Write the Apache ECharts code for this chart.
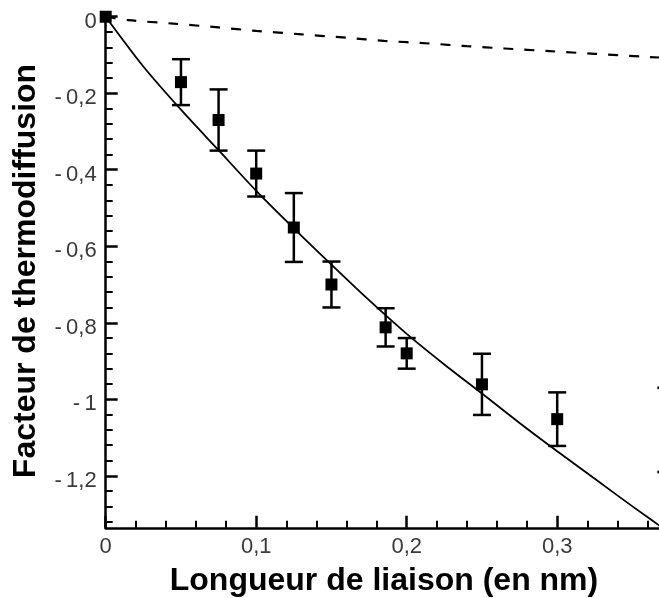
<!DOCTYPE html>
<html><head><meta charset="utf-8">
<script src="https://cdn.jsdelivr.net/npm/echarts@6/dist/echarts.min.js"></script>
<style>html,body{margin:0;padding:0;background:#fff}#c{width:659px;height:598px}</style>
</head><body><div id="c"></div>
<script>
// Measured points (x in nm, thermodiffusion factor) with symmetric error bars
const pointX = [0, 0.05, 0.075, 0.1, 0.125, 0.15, 0.186, 0.2, 0.25, 0.3, 0.3725];
const pointY = [0, -0.171, -0.270, -0.410, -0.551, -0.700, -0.812, -0.880, -0.961, -1.052, -1.080];
const pointErr = [0, 0.06, 0.08, 0.06, 0.09, 0.06, 0.05, 0.04, 0.08, 0.07, 0.11];

// Solid fitted curve
const fitX = [0, 0.025, 0.05, 0.075, 0.1, 0.125, 0.15, 0.175, 0.2, 0.225, 0.25, 0.275, 0.3, 0.325, 0.35, 0.375, 0.4];
const fitY = [0, -0.13, -0.243, -0.349, -0.455, -0.553, -0.648, -0.741, -0.829, -0.909, -0.985, -1.062, -1.136, -1.208, -1.280, -1.350, -1.42];

// Dashed curve
const dashX = [0, 0.015, 0.045, 0.075, 0.1, 0.13, 0.16, 0.185, 0.215, 0.24, 0.265, 0.295, 0.325, 0.355, 0.4];
const dashY = [0, -0.009, -0.018, -0.028, -0.037, -0.046, -0.055, -0.063, -0.070, -0.077, -0.083, -0.090, -0.097, -0.104, -0.113];

// Tick labels
const yMajorTicks = [0, -0.2, -0.4, -0.6, -0.8, -1.0, -1.2];
const yMajorLabels = ['0', '-\u20090,2', '-\u20090,4', '-\u20090,6', '-\u20090,8', '-\u20091', '-\u20091,2'];
const yMinorTicks = [-0.04, -0.08, -0.12, -0.16, -0.24, -0.28, -0.32, -0.36, -0.44, -0.48, -0.52, -0.56,
  -0.64, -0.68, -0.72, -0.76, -0.84, -0.88, -0.92, -0.96, -1.04, -1.08, -1.12, -1.16, -1.24, -1.28, -1.32];
const xTickLabels = { '0': '0', '0.1': '0,1', '0.2': '0,2', '0.3': '0,3', '0.4': '0,4' };

const xTitle = 'Longueur de liaison (en nm)';
const yTitle = 'Facteur de thermodiffusion';

const chart = echarts.init(document.getElementById('c'), null, { renderer: 'canvas' });
const labelFont = { fontFamily: 'Liberation Sans', fontSize: 22, color: '#3a3a3a', fontWeight: 'normal' };

const points = pointX.map((x, i) => [x, pointY[i], pointErr[i]]);
const bars = points.filter(p => p[2] > 0);

chart.setOption({
  animation: false,
  backgroundColor: '#fff',
  grid: { left: 105.7, top: 12.9, width: 602, height: 514.9, containLabel: false, outerBoundsMode: 'none' },
  xAxis: [{
    type: 'value', min: 0, max: 0.4, interval: 0.1,
    axisLine: { show: true, onZero: false, lineStyle: { color: '#000', width: 2.5 } },
    axisTick: { show: true, inside: true, length: 12, lineStyle: { color: '#000', width: 2.5 } },
    minorTick: { show: true, splitNumber: 5, length: 7, lineStyle: { color: '#000', width: 2 } },
    splitLine: { show: false }, minorSplitLine: { show: false },
    axisLabel: Object.assign({ margin: 8, formatter: v => xTickLabels[String(Math.round(v * 10) / 10)] || '' }, labelFont)
  }],
  yAxis: [{
    type: 'value', min: -1.336, max: 0.01, position: 'left',
    axisLine: { show: true, onZero: false, lineStyle: { color: '#000', width: 2.5 } },
    axisTick: { show: true, inside: true, length: 12, customValues: yMajorTicks, lineStyle: { color: '#000', width: 2.5 } },
    splitLine: { show: false },
    axisLabel: Object.assign({
      margin: 9, customValues: yMajorTicks,
      formatter: v => { const i = yMajorTicks.findIndex(t => Math.abs(t - v) < 1e-6); return i >= 0 ? '{l|' + yMajorLabels[i] + '}' : ''; },
      rich: { l: Object.assign({ padding: [10, 0, 0, 0] }, labelFont) }
    }, labelFont)
  }, {
    type: 'value', min: -1.336, max: 0.01, position: 'left', offset: 0,
    axisLine: { show: false },
    axisTick: { show: true, inside: true, length: 7, customValues: yMinorTicks, lineStyle: { color: '#000', width: 2 } },
    axisLabel: { show: false }, splitLine: { show: false }
  }],
  series: [
    {
      type: 'line', name: 'fit', data: fitX.map((x, i) => [x, fitY[i]]),
      showSymbol: false, symbol: 'none', smooth: 0.3, clip: true,
      lineStyle: { color: '#000', width: 1.8 }, z: 2
    },
    {
      type: 'line', name: 'dash', data: dashX.map((x, i) => [x, dashY[i]]),
      showSymbol: false, symbol: 'none', smooth: 0.3, clip: true,
      lineStyle: { color: '#000', width: 2.2, type: [10, 11] }, z: 2
    },
    {
      type: 'custom', name: 'err', data: bars, encode: { x: 0, y: 1 }, z: 3,
      renderItem: (params, api) => {
        const x = api.value(0), y = api.value(1), e = api.value(2);
        const top = api.coord([x, y + e]);
        const bot = api.coord([x, y - e]);
        const hw = 9;
        const st = { stroke: '#000', lineWidth: 2.5, fill: null };
        return {
          type: 'group', children: [
            { type: 'line', shape: { x1: top[0], y1: top[1], x2: bot[0], y2: bot[1] }, style: st },
            { type: 'line', shape: { x1: top[0] - hw, y1: top[1], x2: top[0] + hw, y2: top[1] }, style: st },
            { type: 'line', shape: { x1: bot[0] - hw, y1: bot[1], x2: bot[0] + hw, y2: bot[1] }, style: st }
          ]
        };
      }
    },
    {
      type: 'scatter', name: 'points', data: points.map(p => [p[0], p[1]]),
      symbol: 'rect', symbolSize: 12, clip: false,
      itemStyle: { color: '#000', opacity: 1 }, z: 4
    }
  ],
  graphic: [
    {
      type: 'text', x: 384, y: 581,
      style: { text: xTitle, font: 'bold 32px "Liberation Sans", Arial, sans-serif', fill: '#000', align: 'center', verticalAlign: 'middle' }
    },
    {
      type: 'text', x: 26, y: 271, rotation: Math.PI / 2,
      style: { text: yTitle, font: 'bold 32px "Liberation Sans", Arial, sans-serif', fill: '#000', align: 'center', verticalAlign: 'middle' }
    }
  ]
});
</script>
</body></html>
